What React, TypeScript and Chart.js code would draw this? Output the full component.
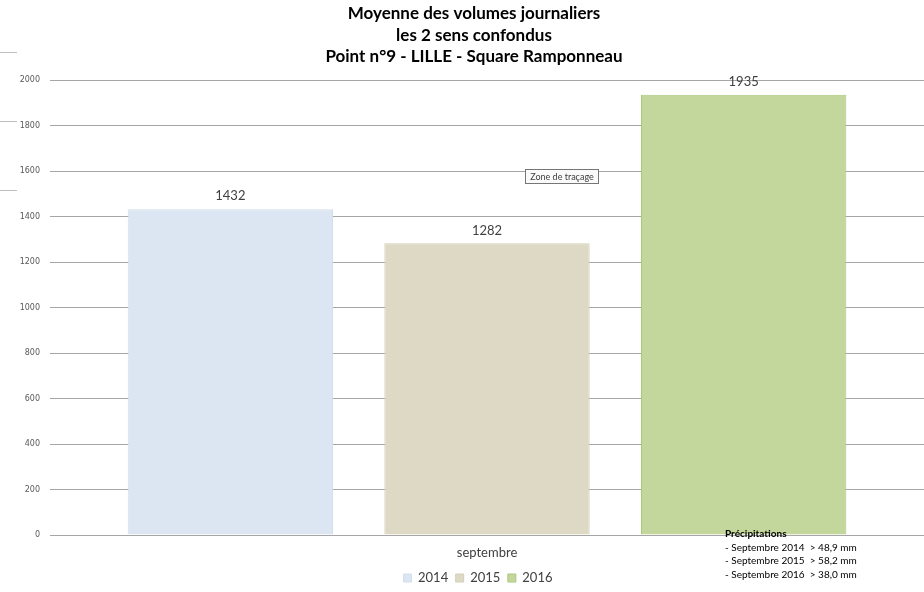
import React, { useEffect, useRef } from "react";
import { Chart, registerables } from "chart.js";

Chart.register(...registerables);

const categories = ["septembre"];
const years = ["2014", "2015", "2016"];
const values = [1432, 1282, 1935];
const barColors = ["#dce6f2", "#ddd9c4", "#c3d69b"];
const barBorders = ["#d3deec", "#d4d0b8", "#a9c97c"];
const yTicksMax = 2000;
const yStep = 200;
const titleLines = [
  "Moyenne des volumes journaliers",
  "les 2 sens confondus",
  "Point n°9 - LILLE - Square Ramponneau",
];
const precipTitle = "Précipitations";
const precipLines = [
  "- Septembre 2014  > 48,9 mm",
  "- Septembre 2015  > 58,2 mm",
  "- Septembre 2016  > 38,0 mm",
];
const tooltipText = "Zone de traçage";

const FONT = "Lato, 'Open Sans', sans-serif";

const decoPlugin = {
  id: "deco",
  afterLayout(chart: any) {
    if (chart.legend) {
      chart.legend.left += 16;
      chart.legend.right += 16;
    }
  },
  afterDatasetsDraw(chart: any) {
    const ctx = chart.ctx;
    ctx.save();
    ctx.font = `13px ${FONT}`;
    ctx.fillStyle = "#404040";
    ctx.textAlign = "center";
    ctx.textBaseline = "middle";
    chart.data.datasets.forEach((ds: any, i: number) => {
      const meta = chart.getDatasetMeta(i);
      meta.data.forEach((el: any, j: number) => {
        ctx.fillText(String(ds.data[j]), el.x, el.y - 13);
      });
    });
    ctx.restore();
  },
  afterDraw(chart: any) {
    const ctx = chart.ctx;
    ctx.save();
    ctx.fillStyle = "#000000";
    ctx.font = `bold 17px ${FONT}`;
    ctx.textAlign = "center";
    ctx.textBaseline = "middle";
    titleLines.forEach((t, i) => ctx.fillText(t, 474, 14 + i * 21.5));

    ctx.strokeStyle = "#bfbfbf";
    ctx.lineWidth = 1;
    [52.5, 121.5, 190.5].forEach((y) => {
      ctx.beginPath();
      ctx.moveTo(0, y);
      ctx.lineTo(17, y);
      ctx.stroke();
    });

    ctx.fillStyle = "#fafafa";
    ctx.strokeStyle = "#767676";
    ctx.fillRect(525.5, 169.5, 73, 14);
    ctx.strokeRect(525.5, 169.5, 73, 14);
    ctx.fillStyle = "#404040";
    ctx.font = `9px ${FONT}`;
    ctx.textAlign = "center";
    ctx.fillText(tooltipText, 562, 177);

    ctx.textAlign = "left";
    ctx.fillStyle = "#000000";
    ctx.font = `bold 10px ${FONT}`;
    ctx.fillText(precipTitle, 725, 534);
    ctx.font = `10px ${FONT}`;
    precipLines.forEach((t, i) => ctx.fillText(t, 725, 547.5 + i * 13.5));
    ctx.restore();
  },
};

export default function App() {
  const ref = useRef<HTMLCanvasElement | null>(null);
  useEffect(() => {
    if (!ref.current) return;
    const chart = new Chart(ref.current, {
      type: "bar",
      data: {
        labels: categories,
        datasets: years.map((y, i) => ({
          label: y,
          data: [values[i]],
          backgroundColor: barColors[i],
          borderColor: barBorders[i],
          borderWidth: 1,
          categoryPercentage: 0.881,
          barPercentage: 0.8,
        })),
      },
      options: {
        animation: false,
        responsive: false,
        maintainAspectRatio: false,
        layout: { padding: { top: 80, left: 0, right: 0, bottom: -2.5 } },
        plugins: {
          title: { display: false },
          tooltip: { enabled: false },
          legend: {
            position: "bottom",
            labels: {
              boxWidth: 8,
              boxHeight: 8,
              padding: 7.5,
              color: "#404040",
              font: { family: FONT, size: 13 },
            },
          },
        },
        scales: {
          x: {
            grid: { display: false, drawTicks: false },
            border: { display: false },
            ticks: { color: "#404040", padding: 10, font: { family: FONT, size: 13 } },
            afterFit: (s: any) => {
              s.height = 29;
            },
          },
          y: {
            min: 0,
            max: yTicksMax,
            grid: { color: "#a6a6a6", drawTicks: false, lineWidth: 1 },
            border: { display: false },
            ticks: {
              stepSize: yStep,
              padding: 10,
              color: "#595959",
              font: { family: "'DejaVu Sans', sans-serif", size: 8 },
              callback: (v: any) => String(v),
            },
            afterFit: (s: any) => {
              s.width = 50;
            },
          },
        },
      },
      plugins: [decoPlugin],
    });
    return () => chart.destroy();
  }, []);
  return (
    <div style={{ position: "absolute", left: 0, top: 0, width: 924, height: 592, background: "#fff" }}>
      <canvas ref={ref} width={924} height={592} />
    </div>
  );
}
